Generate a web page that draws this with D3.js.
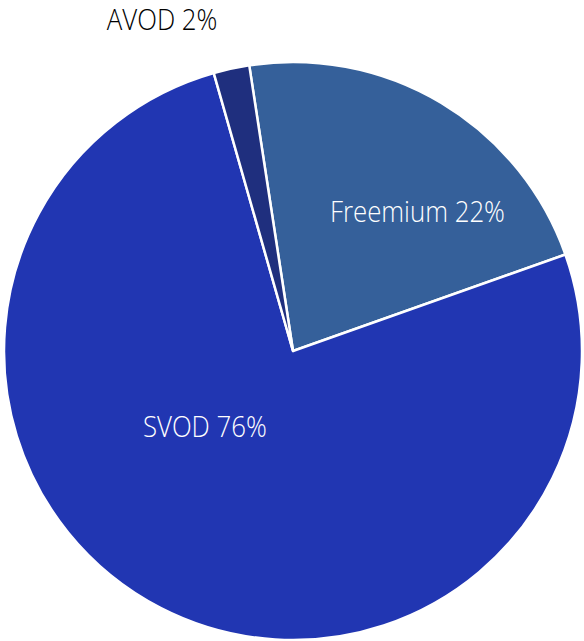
<!DOCTYPE html>
<html>
<head>
<meta charset="utf-8">
<script src="https://cdn.jsdelivr.net/npm/d3@7"></script>
<style>
  body { margin: 0; background: #fff; }
  text { font-family: "Open Sans", "Noto Sans", sans-serif; font-weight: 300; }
</style>
</head>
<body>
<script>
const width = 584;
const height = 641;

const categories = ["Freemium", "SVOD", "AVOD"];
const shares = [22, 76, 2];
const colors = ["#35609a", "#2136b2", "#1f2f7e"];

// label nudges (px) from the slice centroid, and whether the label sits outside
const labelNudge = [
  { dx: 28, dy: 21, outside: false },
  { dx: -2, dy: -92, outside: false },
  { dx: -57, dy: 7, outside: true },
];

const cx = 293;
const cy = 351;
const radius = 289;
const start = -0.152;

const svg = d3
  .select("body")
  .append("svg")
  .attr("width", width)
  .attr("height", height);

const g = svg.append("g").attr("transform", `translate(${cx}, ${cy})`);

const datos = categories.map((c, i) => ({ nombre: c, valor: shares[i], i }));

const pie = d3
  .pie()
  .sort(null)
  .value((d) => d.valor)
  .startAngle(start)
  .endAngle(start + 2 * Math.PI);

const arc = d3.arc().innerRadius(0).outerRadius(radius);

const arcos = pie(datos);

g.selectAll("path")
  .data(arcos)
  .join("path")
  .attr("d", arc)
  .attr("fill", (d) => colors[d.data.i])
  .attr("stroke", "#fff")
  .attr("stroke-width", 2.5)
  .attr("stroke-linejoin", "round");

const arcoDentro = d3.arc().innerRadius(radius * 0.65).outerRadius(radius * 0.65);
const arcoFuera = d3.arc().innerRadius(radius * 1.2).outerRadius(radius * 1.2);

// the original font is narrower than Open Sans, so squeeze horizontally
g.selectAll("text")
  .data(arcos)
  .join("text")
  .attr("transform", (d) => {
    const n = labelNudge[d.data.i];
    const [x, y] = (n.outside ? arcoFuera : arcoDentro).centroid(d);
    return `translate(${x + n.dx}, ${y + n.dy}) scale(0.89, 1)`;
  })
  .attr("text-anchor", "middle")
  .attr("dominant-baseline", "central")
  .attr("font-size", 29)
  .attr("fill", (d) => (labelNudge[d.data.i].outside ? "#000" : "#fff"))
  .text((d) => `${d.data.nombre} ${d.data.valor}%`);
</script>
</body>
</html>
